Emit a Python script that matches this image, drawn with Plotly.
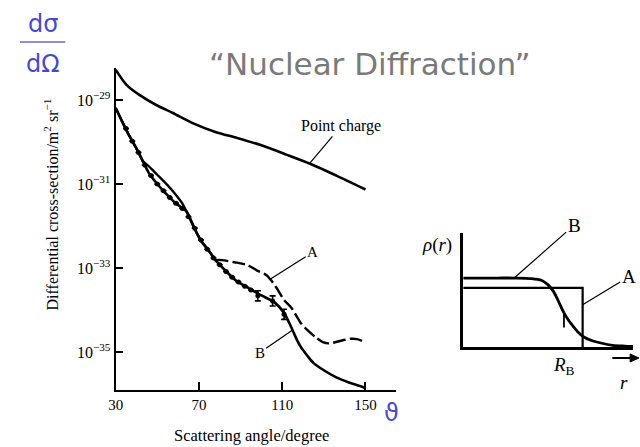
import numpy as np
import plotly.graph_objects as go

W, H = 640, 447

# ---- main panel: differential cross-section vs scattering angle (log10 values) ----
theta_pc = [30, 35.2, 41.4, 49.5, 57.5, 67, 77.9, 88.8, 100, 112, 124, 136, 150]
log_pc = [-28.28, -28.64, -28.88, -29.12, -29.31, -29.55, -29.76, -29.91, -30.08, -30.3, -30.53,
          -30.8, -31.13]

theta_B = [30, 33, 36, 38.5, 41, 43, 46, 50, 54, 58, 62, 64, 68.3, 71, 74.5, 77.9, 79.2, 81, 85.8,
           88.7, 92, 98.2, 102, 106.2, 110.9, 114.3, 117, 119, 122, 125.1, 130, 136, 142, 148.8, 150]
log_B = [-29.19, -29.5, -29.8, -30.02, -30.25, -30.45, -30.74, -31.0, -31.22, -31.42, -31.57, -31.65,
         -32.1, -32.35, -32.57, -32.81, -32.88, -32.97, -33.21, -33.33, -33.42, -33.6, -33.7, -33.81,
         -34.07, -34.4, -34.7, -34.88, -35.08, -35.26, -35.43, -35.6, -35.72, -35.83, -35.87]

theta_A = [30, 33, 36, 38.5, 41, 43, 46, 50, 54, 58, 62, 64, 68.3, 71, 74.5, 77.9,
           81.1, 87, 93.4, 98, 102.5, 107, 110.9, 114.5, 119, 122, 126.7, 129.5, 132.3, 135,
           139.5, 143, 146, 150]
log_A = [-29.19, -29.5, -29.8, -30.02, -30.25, -30.45, -30.58, -30.78, -30.98, -31.2, -31.46, -31.65,
         -32.1, -32.35, -32.57, -32.81, -32.81, -32.86, -32.93, -33.06, -33.17, -33.45, -33.76,
         -33.95, -34.31, -34.47, -34.67, -34.76, -34.79, -34.77, -34.71, -34.68, -34.69, -34.77]
A_SOLID_END = 16  # A coincides with B up to ~78 degrees, dashed beyond

theta_data = [35, 38, 41, 44, 47, 50, 53, 56, 59, 62, 65, 68, 71, 74, 77, 80, 83, 86, 89, 92, 95,
              98.3, 105.4, 110.9]
log_data = [-29.68, -29.98, -30.25, -30.55, -30.8, -31.0, -31.16, -31.32, -31.46, -31.58, -31.78,
            -32.05, -32.33, -32.55, -32.76, -32.92, -33.08, -33.22, -33.33, -33.43, -33.52,
            -33.66, -33.78, -34.1]
err_dec = [0] * 21 + [0.12, 0.12, 0.12]

x_ticks = [30, 70, 110, 150]
y_ticks = [-29, -31, -33, -35]

# ---- inset: charge density profiles ----
r_A = [0, 7.03, 7.03]
rho_A = [0.518, 0.518, 0.0]
r_B = [0, 1, 2, 3, 4, 4.6, 5.0, 5.3, 5.58, 5.93, 6.2, 6.51, 6.8, 7.1, 7.6, 8.1, 8.8, 9.5, 10]
rho_B = [0.605, 0.605, 0.605, 0.605, 0.6, 0.585, 0.545, 0.49, 0.41, 0.30, 0.235, 0.175, 0.125, 0.088,
         0.055, 0.035, 0.015, 0.008, 0.005]
R_B = 5.93


def px(x):
    return x / W


def py(y):
    return 1 - y / H


serif = "Liberation Serif, Times New Roman, serif"
blue = "#4747d1"

fig = go.Figure()

fig.add_trace(go.Scatter(x=theta_pc, y=10 ** np.array(log_pc), mode="lines",
                         line=dict(color="black", width=2.6, shape="spline", smoothing=0.8),
                         showlegend=False))
fig.add_trace(go.Scatter(x=theta_A[:A_SOLID_END], y=10 ** np.array(log_A[:A_SOLID_END]), mode="lines",
                         line=dict(color="black", width=2.4, shape="spline", smoothing=0.8),
                         showlegend=False))
fig.add_trace(go.Scatter(x=theta_A[A_SOLID_END - 1:], y=10 ** np.array(log_A[A_SOLID_END - 1:]), mode="lines",
                         line=dict(color="black", width=2.4, shape="spline", smoothing=0.8,
                                   dash="13px,4px"),
                         showlegend=False))
fig.add_trace(go.Scatter(x=theta_B, y=10 ** np.array(log_B), mode="lines",
                         line=dict(color="black", width=2.6, shape="spline", smoothing=0.8),
                         showlegend=False))

vals = 10 ** np.array(log_data)
e = np.array(err_dec)
fig.add_trace(go.Scatter(x=theta_data, y=vals, mode="markers",
                         marker=dict(color="black", size=5),
                         error_y=dict(type="data", symmetric=False,
                                      array=vals * (10 ** e - 1), arrayminus=vals * (1 - 10 ** -e),
                                      color="black", thickness=1.6, width=3),
                         showlegend=False))

# inset traces
fig.add_trace(go.Scatter(x=r_A, y=rho_A, mode="lines", xaxis="x2", yaxis="y2",
                         line=dict(color="black", width=2.2), showlegend=False))
fig.add_trace(go.Scatter(x=r_B, y=rho_B, mode="lines", xaxis="x2", yaxis="y2",
                         line=dict(color="black", width=2.8, shape="spline", smoothing=0.8),
                         showlegend=False))

fig.update_layout(
    width=W, height=H,
    margin=dict(l=0, r=0, t=0, b=0),
    paper_bgcolor="white", plot_bgcolor="white",
    xaxis=dict(domain=[px(109), px(393)], range=[30, 164.7], showline=True, linecolor="black",
               linewidth=2, ticks="inside", ticklen=8, tickwidth=1.5, tickcolor="black",
               tickvals=x_ticks, ticktext=[str(v) for v in x_ticks],
               tickfont=dict(family=serif, size=15, color="black"),
               showgrid=False, zeroline=False, anchor="y"),
    yaxis=dict(type="log", domain=[py(390), py(68)], range=[-35.9, -28.24], showline=True,
               linecolor="black", linewidth=2, ticks="inside", ticklen=7, tickwidth=1.5,
               tickcolor="black", tickvals=[10.0 ** v for v in y_ticks],
               ticktext=["10<sup>\u2212%d</sup>" % (-v) for v in y_ticks],
               tickfont=dict(family=serif, size=16, color="black"),
               showgrid=False, zeroline=False, anchor="x"),
    xaxis2=dict(domain=[px(461), px(633)], range=[0, 10], showline=True, linecolor="black",
                linewidth=2.6, showticklabels=False, ticks="", showgrid=False, zeroline=False,
                anchor="y2"),
    yaxis2=dict(domain=[py(347), py(233)], range=[0, 1], showline=True, linecolor="black",
                linewidth=2.6, showticklabels=False, ticks="", showgrid=False, zeroline=False,
                anchor="x2"),
)

# R_B marker on the inset
fig.add_shape(type="line", xref="x2", yref="y2", x0=R_B, x1=R_B, y0=0.17, y1=0.31,
              line=dict(color="black", width=1.8))

# direction-of-r arrow beneath the inset axis
fig.add_shape(type="line", xref="paper", yref="paper", x0=px(612), x1=px(633), y0=py(358), y1=py(358),
              line=dict(color="black", width=2))
fig.add_shape(type="path", xref="paper", yref="paper",
              path="M %f,%f L %f,%f L %f,%f Z" % (px(639), py(358), px(630), py(354), px(630), py(362)),
              fillcolor="black", line=dict(color="black", width=1), layer="above")

# fraction bar of dsigma/dOmega
fig.add_shape(type="line", xref="paper", yref="paper", x0=px(12), x1=px(58), y0=py(42), y1=py(42),
              line=dict(color="#8f8fe0", width=2))

ctr = dict(xref="paper", yref="paper", showarrow=False, xanchor="center", yanchor="middle")
ann = []
ann.append(dict(text="\u201cNuclear Diffraction\u201d", x=px(367), y=py(64),
                font=dict(family="Comic Sans MS, DejaVu Sans, sans-serif", size=31, color="#7a7a7a"),
                **ctr))
ann.append(dict(text="d\u03c3", x=px(35), y=py(24), font=dict(family="DejaVu Sans", size=24, color=blue),
                **ctr))
ann.append(dict(text="d\u03a9", x=px(35), y=py(64), font=dict(family="DejaVu Sans", size=24, color=blue),
                **ctr))
ann.append(dict(text="\u03d1", x=px(388), y=py(413), font=dict(family="DejaVu Sans", size=24, color=blue),
                **ctr))
ann.append(dict(text="Differential cross-section/m<sup>2</sup> sr<sup>\u22121</sup>", textangle=-90,
                x=px(44), y=py(204), font=dict(family=serif, size=16, color="black"), **ctr))
ann.append(dict(text="Scattering angle/degree", x=px(247), y=py(435),
                font=dict(family=serif, size=16.5, color="black"), **ctr))

# curve labels with leader lines
lead = dict(showarrow=True, arrowhead=0, arrowwidth=1.2, arrowcolor="black", standoff=0,
            xanchor="center", yanchor="middle")
ann.append(dict(text="Point charge", x=123, y=-30.52, xref="x", yref="y", ax=32, ay=-38,
                font=dict(family=serif, size=16, color="black"), **lead))
ann.append(dict(text="A", x=104, y=-33.27, xref="x", yref="y", ax=43, ay=-27,
                font=dict(family=serif, size=15, color="black"), **lead))
ann.append(dict(text="B", x=115, y=-34.47, xref="x", yref="y", ax=-33, ay=23,
                font=dict(family=serif, size=15, color="black"), **lead))

inset_font = dict(family=serif, size=19, color="black")
ann.append(dict(text="B", x=3.0, y=0.605, xref="x2", yref="y2", ax=60, ay=-53, font=inset_font, **lead))
ann.append(dict(text="A", x=7.03, y=0.37, xref="x2", yref="y2", ax=46, ay=-28, font=inset_font, **lead))
ann.append(dict(text="<i>\u03c1</i>(<i>r</i>)", x=px(434), y=py(245), font=inset_font, **ctr))
ann.append(dict(text="<i>R</i><sub>B</sub>", x=px(563), y=py(366), font=inset_font, **ctr))
ann.append(dict(text="<i>r</i>", x=px(624), y=py(382), font=inset_font, **ctr))

fig.update_layout(annotations=ann)

fig.write_html("out.html")
